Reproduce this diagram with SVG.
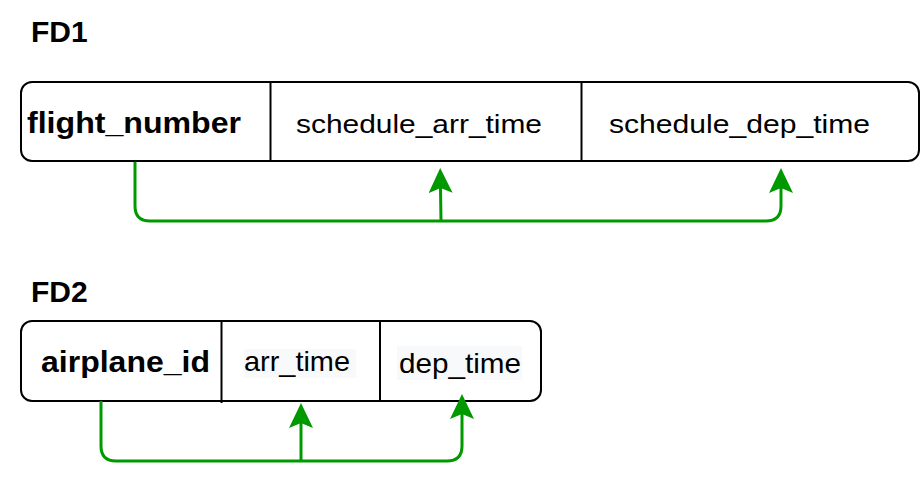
<svg xmlns="http://www.w3.org/2000/svg" width="922" height="480" viewBox="0 0 922 480">
  <style>
    .box { fill: #ffffff; stroke: #000000; stroke-width: 2; }
    .div { stroke: #000000; stroke-width: 2; fill: none; }
    .title { font-family: "Liberation Sans", Arial, sans-serif; font-weight: bold; font-size: 30px; fill: #000000; }
    .key { font-family: "Liberation Sans", Arial, sans-serif; font-weight: bold; font-size: 30px; fill: #000000; }
    .attr { font-family: "Liberation Sans", Arial, sans-serif; font-size: 26px; fill: #000000; }
    .attr2 { font-family: "Liberation Sans", Arial, sans-serif; font-size: 28px; fill: #000000; }
    .hl { fill: #f8f9fa; }
    .conn { fill: none; stroke: #009900; stroke-width: 3; stroke-linejoin: round; }
  </style>
  <defs>
    <marker id="arrow" viewBox="0 0 25 24" refX="5" refY="12" markerWidth="25" markerHeight="24" markerUnits="userSpaceOnUse" orient="auto">
      <path d="M25,12 L0,0 L5,12 L0,24 Z" fill="#009900"/>
    </marker>
  </defs>

  <g id="label-fd1">
    <text class="title" x="31" y="42">FD1</text>
  </g>
  <g id="label-fd2">
    <text class="title" x="31" y="302">FD2</text>
  </g>

  <g id="fd1">
    <rect class="box" x="21" y="82" width="898" height="79" rx="11" ry="11"/>
    <line class="div" x1="270.5" y1="82" x2="270.5" y2="161"/>
    <line class="div" x1="581.5" y1="82" x2="581.5" y2="161"/>
  </g>
  <g id="fd1-flight_number">
    <text class="key" x="27" y="133" textLength="214" lengthAdjust="spacingAndGlyphs">flight_number</text>
  </g>
  <g id="fd1-schedule_arr_time">
    <text class="attr" x="296" y="133" textLength="246" lengthAdjust="spacingAndGlyphs">schedule_arr_time</text>
  </g>
  <g id="fd1-schedule_dep_time">
    <text class="attr" x="609" y="133" textLength="261" lengthAdjust="spacingAndGlyphs">schedule_dep_time</text>
  </g>

  <g id="fd2">
    <rect class="box" x="21" y="321" width="520" height="80" rx="11" ry="11"/>
    <line class="div" x1="221.5" y1="321" x2="221.5" y2="403"/>
    <line class="div" x1="380" y1="321" x2="380" y2="401"/>
  </g>
  <g id="fd2-airplane_id">
    <text class="key" x="41" y="372" textLength="169" lengthAdjust="spacingAndGlyphs">airplane_id</text>
  </g>
  <g id="fd2-arr_time">
    <rect class="hl" x="244" y="349" width="112" height="29"/>
    <text class="attr2" x="244" y="371" textLength="106" lengthAdjust="spacingAndGlyphs">arr_time</text>
  </g>
  <g id="fd2-dep_time">
    <rect class="hl" x="397" y="346" width="125" height="34"/>
    <text class="attr2" x="399" y="373" textLength="122" lengthAdjust="spacingAndGlyphs">dep_time</text>
  </g>

  <g id="connectors">
    <path class="conn" d="M135,162 L135,206 Q135,221 150,221 L766,221 Q781,221 781,206 L781,188" marker-end="url(#arrow)"/>
    <path class="conn" d="M441,221 L440.5,188" marker-end="url(#arrow)"/>
    <path class="conn" d="M101,401 L101,446 Q101,461 116,461 L447,461 Q462,461 462,446 L462,414" marker-end="url(#arrow)"/>
    <path class="conn" d="M301,461 L301,423" marker-end="url(#arrow)"/>
  </g>
</svg>
